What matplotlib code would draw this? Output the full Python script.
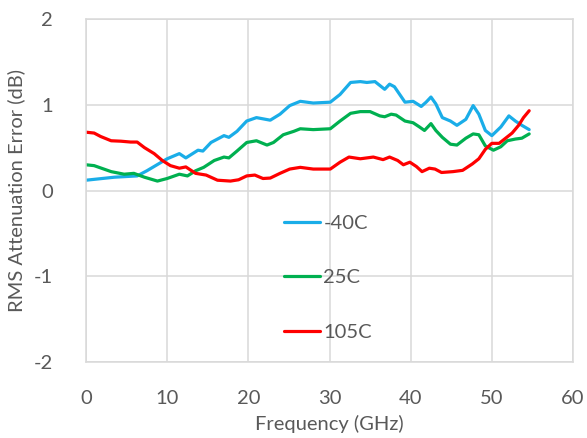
import matplotlib
matplotlib.use("Agg")
import matplotlib.pyplot as plt

plt.rcParams['font.family'] = ['Lato', 'DejaVu Sans']
plt.rcParams['axes.unicode_minus'] = False

freq_m40 = [0, 3.5, 6.3, 7.5, 10, 11.5, 12.3, 13.8, 14.4, 15.4, 17, 17.6, 18.6, 19.8, 21, 22.7,
            23.9, 25.1, 26.4, 28, 30.1, 31.3, 32.6, 33.8, 34.6, 35.6, 36.8, 37.4, 38, 39.3, 40.3,
            41.3, 41.9, 42.5, 43.1, 43.9, 44.9, 45.7, 46.8, 47.7, 48.4, 49.2, 50.0, 51.1, 52.1,
            52.9, 53.7, 54.6]
val_m40 = [0.12, 0.155, 0.17, 0.23, 0.37, 0.43, 0.38, 0.47, 0.46, 0.56, 0.64, 0.62, 0.69, 0.81,
           0.85, 0.82, 0.89, 0.99, 1.04, 1.02, 1.03, 1.12, 1.26, 1.27, 1.26, 1.27, 1.18, 1.24, 1.21,
           1.03, 1.04, 0.98, 1.03, 1.09, 1.01, 0.85, 0.81, 0.76, 0.83, 0.99, 0.89, 0.70, 0.64,
           0.74, 0.87, 0.81, 0.76, 0.71]

freq_25 = [0, 1, 3.1, 4.7, 5.9, 7.2, 8.8, 10, 11.5, 12.5, 13.5, 14.5, 15.8, 17, 17.6, 18.6, 19.8,
           21, 22.3, 23.1, 24.3, 25.6, 26.4, 28, 30.1, 31.3, 32.6, 33.8, 35, 36.2, 36.8, 37.6,
           38.2, 39.3, 40.3, 41.1, 41.7, 42.5, 43.1, 43.9, 44.9, 45.7, 46.8, 47.7, 48.4, 49.2,
           50.2, 51.1, 51.9, 52.9, 53.7, 54.6]
val_25 = [0.30, 0.29, 0.22, 0.19, 0.20, 0.155, 0.11, 0.14, 0.19, 0.17, 0.23, 0.27, 0.35, 0.39,
          0.38, 0.46, 0.56, 0.58, 0.53, 0.56, 0.65, 0.69, 0.72, 0.71, 0.72, 0.81, 0.90, 0.92, 0.92,
          0.87, 0.86, 0.89, 0.88, 0.81, 0.79, 0.74, 0.70, 0.78, 0.70, 0.62, 0.54, 0.53, 0.61, 0.66,
          0.65, 0.52, 0.47, 0.51, 0.58, 0.60, 0.61, 0.66]

freq_105 = [0, 1, 1.8, 3.1, 4.3, 5.5, 6.3, 7.2, 8.4, 9.4, 10.4, 11.5, 12.3, 13.5, 14.8, 16.2,
            17.8, 18.8, 19.8, 20.8, 21.8, 22.7, 23.9, 25.1, 26.4, 28, 30.1, 31.3, 32.4, 33.8,
            35.4, 36.6, 37.4, 38.4, 39.1, 39.9, 40.7, 41.4, 42.3, 43, 43.8, 45.2, 46.4, 47.6,
            48.4, 49.2, 50.0, 50.9, 51.7, 52.5, 53.3, 53.9, 54.6]
val_105 = [0.68, 0.67, 0.63, 0.58, 0.575, 0.565, 0.565, 0.50, 0.43, 0.35, 0.29, 0.26, 0.275, 0.20,
           0.18, 0.12, 0.11, 0.125, 0.17, 0.18, 0.14, 0.145, 0.20, 0.25, 0.27, 0.25, 0.25, 0.33,
           0.39, 0.37, 0.39, 0.36, 0.39, 0.35, 0.30, 0.33, 0.28, 0.22, 0.26, 0.25, 0.21, 0.22,
           0.235, 0.31, 0.37, 0.48, 0.55, 0.55, 0.61, 0.67, 0.76, 0.85, 0.93]

labels = ['-40C', '25C', '105C']
colors = ['#1AADE8', '#00B050', '#FF0000']

x_ticks = [0, 10, 20, 30, 40, 50, 60]
y_ticks = [-2, -1, 0, 1, 2]

fig = plt.figure(figsize=(5.87, 4.38), dpi=100)
ax = fig.add_axes([86/587, 1 - 362/438, (573 - 86)/587, (362 - 19)/438])

for fx, vy, lab, c in zip([freq_m40, freq_25, freq_105], [val_m40, val_25, val_105], labels, colors):
    ax.plot(fx, vy, color=c, lw=2.3, label=lab, solid_capstyle='round')

ax.set_xlim(0, 60)
ax.set_ylim(-2, 2)
ax.set_xticks(x_ticks)
ax.set_yticks(y_ticks)
ax.grid(True, color='#D9D9D9', lw=1.1)
ax.set_axisbelow(True)
for s in ax.spines.values():
    s.set_color('#D9D9D9')
    s.set_linewidth(1.1)
txtc = '#595959'
ax.tick_params(length=0, colors=txtc, labelsize=14.5)
ax.tick_params(axis='y', pad=24)
ax.tick_params(axis='x', pad=20)
ax.set_xlabel('Frequency (GHz)', color=txtc, fontsize=14.5, labelpad=6)
ax.set_ylabel('RMS Attenuation Error (dB)', color=txtc, fontsize=14.5, labelpad=6)

leg = ax.legend(loc='upper left', bbox_to_anchor=(284/587, 1 - 215/438), bbox_transform=fig.transFigure,
                frameon=False, fontsize=14.5, handlelength=1.8, handletextpad=0.15,
                labelspacing=1.85, borderpad=0, borderaxespad=0)
for t in leg.get_texts():
    t.set_color(txtc)

fig.savefig('out.png', dpi=100)
